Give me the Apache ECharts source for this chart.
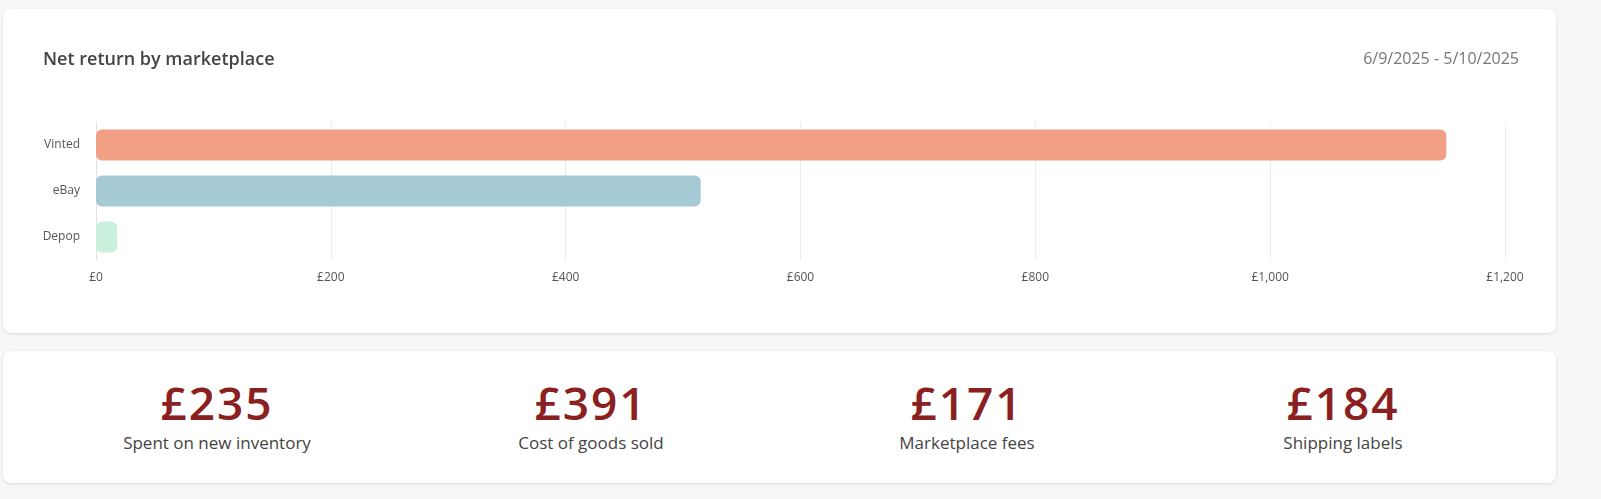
<!DOCTYPE html>
<html>
<head>
<meta charset="utf-8" />
<title>Net return</title>
<style>
  html, body { margin: 0; padding: 0; overflow: hidden; background: #f7f7f7; }
  #page { font-family: "Open Sans", Lato, sans-serif; width: 1601px; height: 499px; position: absolute; left: 0; top: 0; transform-origin: 0 0; }
  .card { position: absolute; background: #fff; border-radius: 8px; box-shadow: 0 1px 3px rgba(0,0,0,0.12); }
  .kpi { position: absolute; width: 360px; text-align: center; top: 0; }
  .kpi .v { font-size: 46px; font-weight: 600; color: #8b2020; letter-spacing: 2px; margin-top: 22px; line-height: 58px; }
  .kpi .l { font-size: 17px; color: #444; margin-top: 0; }
</style>
</head>
<body>
<script src="https://cdn.jsdelivr.net/npm/echarts@6/dist/echarts.min.js"></script>
<div id="page">
<div class="card" style="left:3px;top:9px;width:1553px;height:324px;">
  <div id="main" style="width:1553px;height:324px;"></div>
</div>
<div class="card" id="kpis" style="left:3px;top:351px;width:1553px;height:132px;"></div>
</div>
<script type="text/javascript">
    var marketplaces = ['Vinted', 'eBay', 'Depop'];
    var netReturn = [1150, 515, 18];
    var barColors = ['#f2a085', '#a5cad4', '#c8f0dc'];
    var kpiValues = ['£235', '£391', '£171', '£184'];
    var kpiLabels = ['Spent on new inventory', 'Cost of goods sold', 'Marketplace fees', 'Shipping labels'];
    var kpiCenters = [214, 588, 964, 1340];

    // fit the fixed 1601px layout to the real window width
    var s = window.innerWidth / 1601;
    document.getElementById('page').style.transform = 'scale(' + s + ')';

    var box = document.getElementById('kpis');
    kpiValues.forEach(function (v, i) {
        var d = document.createElement('div');
        d.className = 'kpi';
        d.style.left = (kpiCenters[i] - 180) + 'px';
        d.innerHTML = '<div class="v">' + v + '</div><div class="l">' + kpiLabels[i] + '</div>';
        box.appendChild(d);
    });

    var myChart = echarts.init(document.getElementById('main'));
    var option = {
        textStyle: { fontFamily: '"Open Sans", Lato, sans-serif' },
        title: [
            { text: 'Net return by marketplace', left: 35, top: 37,
              textStyle: { fontSize: 18, fontWeight: 600, color: '#444' } },
            { text: '6/9/2025 - 5/10/2025', right: 32, top: 37,
              textStyle: { fontSize: 16, fontWeight: 'normal', color: '#777' } }
        ],
        grid: { left: 93, right: 51, top: 113, bottom: 73 },
        xAxis: {
            type: 'value', min: 0, max: 1200, interval: 200,
            axisLabel: { color: '#555', fontSize: 12, margin: 12,
                formatter: function (v) { return '£' + v.toLocaleString('en-GB'); } },
            splitLine: { lineStyle: { color: '#ececec' } },
            axisLine: { show: false }
        },
        yAxis: {
            type: 'category', data: marketplaces, inverse: true,
            axisTick: { show: false },
            axisLine: { lineStyle: { color: '#e2e2e2' } },
            axisLabel: { color: '#555', fontSize: 12, margin: 16 }
        },
        series: [{
            type: 'bar', barWidth: 31,
            data: netReturn.map(function (v, i) {
                return { value: v, itemStyle: { color: barColors[i], borderRadius: 6 } };
            })
        }]
    };
    myChart.setOption(option);
</script>
</body>
</html>
